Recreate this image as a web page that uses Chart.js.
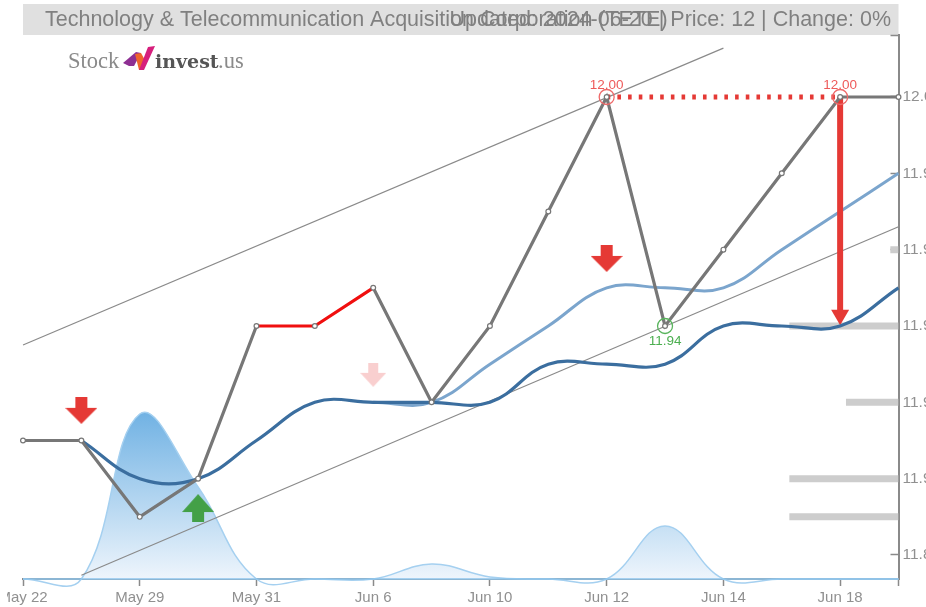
<!DOCTYPE html>
<html>
<head>
<meta charset="utf-8">
<style>
html,body{margin:0;padding:0;background:#fff;overflow:hidden}
canvas{display:block;clip-path:inset(0 0 0 7px);filter:blur(0.4px)}
</style>
<script src="https://cdn.jsdelivr.net/npm/chart.js@4/dist/chart.umd.js"></script>
</head>
<body>
<canvas id="c" width="926" height="607"></canvas>
<script>
const categories = ['May 22','May 24','May 29','May 30','May 31','Jun 4','Jun 6','Jun 7','Jun 10','Jun 11','Jun 12','Jun 13','Jun 14','Jun 17','Jun 18','Jun 20'];
const shownLabels = ['May 22','May 29','May 31','Jun 6','Jun 10','Jun 12','Jun 14','Jun 18'];
const priceTicks = [11.88,11.90,11.92,11.94,11.96,11.98,12.00];
const price = [11.91,11.91,11.89,11.90,11.94,11.94,11.95,11.92,11.94,11.97,12.00,11.94,11.96,11.98,12.00,12.00];
const shortAvg = [null,11.91,11.90,11.90,11.91,11.92,11.92,11.92,11.92,11.93,11.93,11.93,11.94,11.94,11.94,11.95];
const longAvg = [null,null,null,null,null,null,11.92,11.92,11.93,11.94,11.95,11.95,11.95,11.96,11.97,11.98];
const volume = [0,0,3300,1840,0,0,0,300,40,0,0,1060,0,0,0,0];
const channelTop = [11.935,null,null,null,null,null,null,null,null,null,null,null,12.0128,null,null,null];
const channelBottom = [null,11.8747,null,null,null,null,null,null,null,null,null,null,null,null,null,11.966];
const resistance = [null,null,null,null,null,null,null,null,null,null,12.00,12.00,12.00,12.00,12.00,null];
const highMarks = [null,null,null,null,null,null,null,null,null,null,12.00,null,null,null,12.00,null];
const lowMarks = [null,null,null,null,null,null,null,null,null,null,null,11.94,null,null,null,null];
const sellSignals = [null,11.9179,null,null,null,null,null,null,null,null,11.9577,null,null,null,null,null];
const weakSellSignals = [null,null,null,null,null,null,11.9272,null,null,null,null,null,null,null,null,null];
const buySignals = [null,null,null,11.8923,null,null,null,null,null,null,null,null,null,null,null,null];
const dropFrom = 12.00, dropTo = 11.9429, dropIndex = 14;
const levelPrices = [11.96,11.94,11.92,11.90,11.89];
const levelSizes = [0.14,1.87,0.90,1.87,1.87];

function arrow(w,h,headH,shaft,color,up){
  const cv=document.createElement('canvas');cv.width=w;cv.height=h;
  const g=cv.getContext('2d');g.fillStyle=color;g.beginPath();
  if(up){g.moveTo(w/2,0);g.lineTo(w,headH);g.lineTo((w+shaft)/2,headH);g.lineTo((w+shaft)/2,h);g.lineTo((w-shaft)/2,h);g.lineTo((w-shaft)/2,headH);g.lineTo(0,headH);}
  else{g.moveTo(w/2,h);g.lineTo(w,h-headH);g.lineTo((w+shaft)/2,h-headH);g.lineTo((w+shaft)/2,0);g.lineTo((w-shaft)/2,0);g.lineTo((w-shaft)/2,h-headH);g.lineTo(0,h-headH);}
  g.closePath();g.fill();return cv;
}

const levelSets = levelPrices.map((p,i)=>({
  type:'line',label:'level '+p,xAxisID:'xi',yAxisID:'y',parsing:false,normalized:false,
  data:[{x:15-levelSizes[i],y:p},{x:15,y:p}],
  borderColor:'#cdcdcd',borderWidth:7,pointRadius:0,borderCapStyle:'butt',tension:0,order:20
}));

const furniture = {
  id:'furniture',
  beforeDraw(ch){
    const c=ch.ctx;c.save();
    c.fillStyle='#e0e0e0';c.fillRect(23,4,875.5,31);
    c.fillStyle='#808080';c.font='21.5px "Liberation Sans"';c.textBaseline='middle';
    c.textAlign='left';c.fillText('Technology & Telecommunication Acquisition Corporation (TETE)',45,20);
    c.textAlign='right';c.fillText('Updated: 2024-06-20 | Price: 12 | Change: 0%',891,20);
    c.textAlign='left';c.textBaseline='alphabetic';
    c.fillStyle='#8a8a8a';c.font='22.5px "Liberation Serif"';c.fillText('Stock',68,68);
    c.fillStyle='#555';c.font='bold 19px "DejaVu Serif"';c.fillText('invest',155,68);
    c.fillStyle='#8a8a8a';c.font='22.5px "Liberation Serif"';c.fillText('.us',218,68);
    const poly=(col,p)=>{c.fillStyle=col;c.beginPath();p.forEach((q,i)=>i?c.lineTo(q[0],q[1]):c.moveTo(q[0],q[1]));c.closePath();c.fill();};
    poly('#8e2f93',[[123,63],[136,52],[141,53],[134,66],[129,66]]);
    poly('#f0642c',[[135,54],[141,53],[146,62],[143,70],[139,70]]);
    poly('#d61f7c',[[139,70],[148,47],[155,46],[144,70]]);
    c.restore();
  },
  afterDatasetsDraw(ch){
    const c=ch.ctx;c.save();c.font='13.5px "Liberation Sans"';c.textAlign='center';
    const idxHigh=ch.data.datasets.findIndex(d=>d.label==='highs');
    const idxLow=ch.data.datasets.findIndex(d=>d.label==='lows');
    c.fillStyle='#ee5a5a';
    ch.getDatasetMeta(idxHigh).data.forEach((e,i)=>{if(highMarks[i]!==null)c.fillText(highMarks[i].toFixed(2),e.x,e.y-8);});
    c.fillStyle='#4caf50';
    ch.getDatasetMeta(idxLow).data.forEach((e,i)=>{if(lowMarks[i]!==null)c.fillText(lowMarks[i].toFixed(2),e.x,e.y+19);});
    c.restore();
  }
};

new Chart(document.getElementById('c'),{
  type:'line',
  data:{labels:categories,datasets:[
    ...levelSets,
    {label:'Volume',data:volume,yAxisID:'yv',borderColor:'#a5d0f0',borderWidth:1.5,pointRadius:0,tension:0.4,capBezierPoints:false,clip:16,order:15,fill:'origin',
      backgroundColor(ctx){
        const a=ctx.chart.chartArea;if(!a)return 'transparent';
        const g=ctx.chart.ctx.createLinearGradient(0,410,0,a.bottom);
        g.addColorStop(0,'#6fb1e3');g.addColorStop(1,'#eef5fc');return g;
      }},
    {label:'Base',type:'line',data:volume.map(()=>0),yAxisID:'yv',borderColor:'#8cc4ec',borderWidth:1.5,pointRadius:0,clip:4,order:14},
    {label:'Channel top',data:channelTop,spanGaps:true,borderColor:'#8a8a8a',borderWidth:1.2,pointRadius:0,tension:0,order:9},
    {label:'Channel bottom',data:channelBottom,spanGaps:true,borderColor:'#8a8a8a',borderWidth:1.2,pointRadius:0,tension:0,order:9},
    {label:'Long average',data:longAvg,borderColor:'#7ba5cd',borderWidth:3,pointRadius:0,tension:0.4,order:8},
    {label:'Resistance',data:resistance,borderColor:'#e53935',borderWidth:5,borderDash:[3.6,7.1],pointRadius:0,tension:0,order:7},
    {label:'Drop',xAxisID:'xi',parsing:false,normalized:false,data:[{x:dropIndex,y:dropFrom},{x:dropIndex,y:dropTo}],
      borderColor:'#e53935',backgroundColor:'#e53935',borderWidth:6,pointRadius:[0,10.4],pointBorderWidth:0,pointStyle:'triangle',pointRotation:180,order:6},
    {label:'Short average',data:shortAvg,borderColor:'#3b6e9f',borderWidth:3.2,pointRadius:0,tension:0.4,order:5},
    {label:'Price',data:price,clip:10,borderColor:'#777777',borderWidth:3.2,tension:0,
      pointRadius:2.4,pointBackgroundColor:'#fff',pointBorderColor:'#777777',pointBorderWidth:1.2,order:3,
      segment:{borderColor:c=>(c.p0DataIndex===4||c.p0DataIndex===5)?'#f00f0f':undefined}},
    {label:'highs',data:highMarks,showLine:false,pointRadius:7.5,pointBackgroundColor:'transparent',pointBorderColor:'#ee6a6a',pointBorderWidth:1.3,clip:12,order:2},
    {label:'lows',data:lowMarks,showLine:false,pointRadius:7.5,pointBackgroundColor:'transparent',pointBorderColor:'#58b45c',pointBorderWidth:1.3,clip:12,order:2},
    {label:'Sell',data:sellSignals,showLine:false,pointStyle:arrow(32,27,16,12,'#e53935',false),order:1},
    {label:'Weak sell',data:weakSellSignals,showLine:false,pointStyle:arrow(26,24,14,10,'#f9cfcf',false),order:1},
    {label:'Buy',data:buySignals,showLine:false,pointStyle:arrow(32,28,18,12,'#43a047',true),order:1}
  ]},
  plugins:[furniture],
  options:{
    responsive:false,animation:false,
    layout:{padding:{left:23,top:35,right:0,bottom:0}},
    plugins:{legend:{display:false},tooltip:{enabled:false},title:{display:false}},
    scales:{
      x:{type:'category',offset:false,position:'bottom',
        border:{color:'#8a8a8a',width:2},
        grid:{drawOnChartArea:false,drawTicks:true,tickLength:7,tickWidth:1.5,
          tickColor:c=>(c.index%2===0||c.index===15)?'#8a8a8a':'transparent'},
        ticks:{autoSkip:false,maxRotation:0,minRotation:0,padding:3,color:'#909090',font:{family:'"Liberation Sans"',size:15},
          callback(v,i){const l=categories[i];return shownLabels.includes(l)?l:'';}},
        afterFit(s){s.height=28;s.paddingLeft=0;s.paddingRight=0;}
      },
      xi:{type:'linear',display:false,min:0,max:15,offset:false},
      y:{position:'right',min:11.87371,max:12.01624,
        border:{color:'#8a8a8a',width:2},
        grid:{drawOnChartArea:false,drawTicks:true,tickLength:-8,tickWidth:1.5,tickColor:'#8a8a8a'},
        afterBuildTicks(s){s.ticks=[...priceTicks.map(v=>({value:v})),{value:s.max}];},
        ticks:{autoSkip:false,padding:12,color:'#909090',font:{family:'"Liberation Sans"',size:15.5},
          callback(v){return priceTicks.includes(v)?v.toFixed(2):'';}},
        afterFit(s){s.width=27.5;s.paddingTop=0;s.paddingBottom=0;}
      },
      yv:{display:false,min:0,max:10880}
    }
  }
});
</script>
</body>
</html>
